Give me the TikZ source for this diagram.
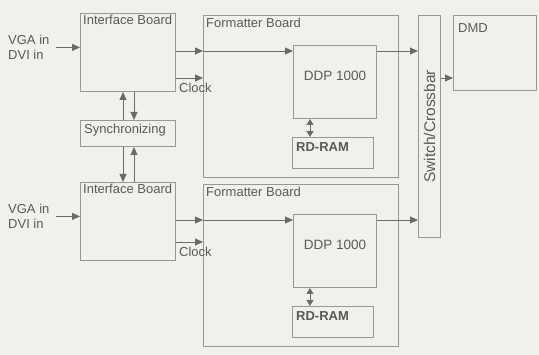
\documentclass[tikz,border=0pt]{standalone}
\usepackage{fontspec}
\setmainfont{Liberation Sans}
\usetikzlibrary{arrows.meta,positioning,calc}
\definecolor{bgclr}{RGB}{239,241,237}
\definecolor{boxbdr}{RGB}{150,152,150}
\definecolor{arrclr}{RGB}{105,107,105}
\definecolor{txtclr}{RGB}{88,90,88}
\tikzset{
  blk/.style={rectangle,draw=boxbdr,line width=1pt,inner sep=0pt,anchor=north west},
  ttl/.style={font=\fontsize{13}{15}\selectfont,text=txtclr,inner sep=0pt,
    anchor=north west,align=left},
  arr/.style={-{Triangle[length=8pt,width=7pt]},line width=0.9pt,color=arrclr},
  darr/.style={{Triangle[length=6pt,width=7pt]}-{Triangle[length=6pt,width=7pt]},
    line width=0.9pt,color=arrclr},
}

\begin{document}
\begin{tikzpicture}[x=1pt,y=-1pt]
  \fill[bgclr] (0,0) rectangle (539,355);
  \useasboundingbox (0,0) rectangle (539,355);

  %% Switch and DMD
  \node[blk,minimum width=22pt,minimum height=222pt] (sw) at (418,15) {};
  \node[ttl,anchor=center,rotate=90,font=\fontsize{15.5}{17}\selectfont] (swt) at (sw.center) {Switch/Crossbar};
  \node[blk,minimum width=83pt,minimum height=75pt] (dmd) at (453,15) {};
  \node[ttl] (dmdt) at ($(dmd.north west)+(5,8)$) {DMD};
  \coordinate (so) at ($(sw.north east)+(0,63)$);
  \draw[arr] (so) -- (so -| dmd.west);

  %% Two channels, the lower one shifted down
  \foreach \k/\dy/\cy in {1/0/65,2/169/60}{
    \node[blk,minimum width=95pt,minimum height=78pt] (ib\k) at (80,13+\dy) {};
    \node[ttl] (ibt\k) at ($(ib\k.north west)+(3,2)$) {Interface Board};
    \node[ttl] (vga\k) at (8,35+\dy) {VGA in\\DVI in};
    \coordinate (in\k) at ($(vga\k.east)+(6,0)$);
    \draw[arr] (in\k) -- (in\k -| ib\k.west);

    \node[blk,minimum width=195pt,minimum height=162pt] (fb\k) at (203,15+\dy) {};
    \node[ttl] (fbt\k) at ($(fb\k.north west)+(3,3)$) {Formatter Board};
    \node[blk,minimum width=83pt,minimum height=73pt] (ddp\k) at (293,45+\dy) {};
    \node[ttl,anchor=center,font=\fontsize{13.5}{15}\selectfont] (ddpt\k) at ($(ddp\k.center)+(0,-6)$) {DDP 1000};
    \node[blk,minimum width=81pt,minimum height=31pt] (ram\k) at (292,137+\dy) {};
    \node[ttl,font=\fontsize{13}{15}\selectfont\bfseries] (ramt\k) at ($(ram\k.north west)+(4,5)$) {RD-RAM};

    \coordinate (d\k) at ($(ib\k.north east)+(0,38)$);
    \draw[arr] (d\k) -- (d\k -| fb\k.west);
    \draw[arr] (d\k -| fb\k.west) -- (d\k -| ddp\k.west);
    \draw[arr] (d\k -| ddp\k.east) -- (d\k -| sw.west);
    \coordinate (c\k) at ($(ib\k.north east)+(0,\cy)$);
    \draw[arr] (c\k) -- (c\k -| fb\k.west);
    \node[ttl] (clk\k) at ($(c\k)+(3,5)$) {Clock};
    \coordinate (m\k) at ($(ddp\k.south west)+(17,0)$);
    \draw[darr] (m\k) -- (m\k |- ram\k.north);
  }

  %% Synchronizing
  \node[blk,minimum width=95pt,minimum height=26pt] (sync) at (80,120) {};
  \node[ttl] (synct) at ($(sync.north west)+(4,4)$) {Synchronizing};
  \coordinate (sl1) at ($(sync.north)+(-5,0)$);
  \coordinate (sr1) at ($(sync.north)+(6,0)$);
  \draw[arr] (sl1) -- (sl1 |- ib1.south);
  \draw[arr] (sr1 |- ib1.south) -- (sr1);
  \coordinate (sl2) at ($(sync.south)+(-5,0)$);
  \coordinate (sr2) at ($(sync.south)+(6,0)$);
  \draw[arr] (sl2) -- (sl2 |- ib2.north);
  \draw[arr] (sr2 |- ib2.north) -- (sr2);
\end{tikzpicture}
\end{document}
